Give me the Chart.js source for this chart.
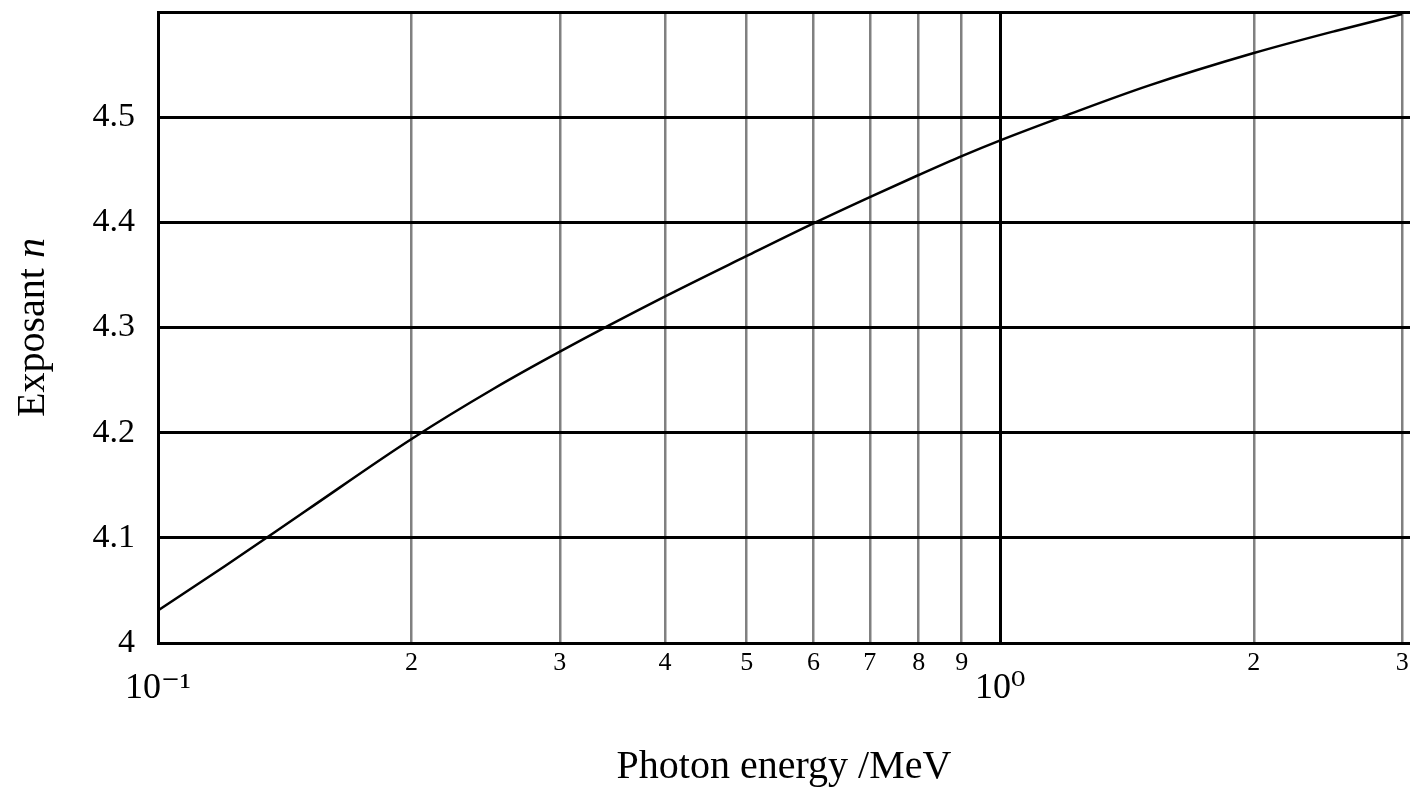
<!DOCTYPE html>
<html>
<head>
<meta charset="utf-8">
<script src="https://cdn.jsdelivr.net/npm/chart.js@4/dist/chart.umd.min.js"></script>
<style>
  html, body { margin: 0; padding: 0; background: #fff; }
  #wrap { width: 1410px; height: 789px; position: relative; }
</style>
</head>
<body>
<div id="wrap"><canvas id="c" width="1410" height="789"></canvas></div>
<script>
// ---- data ----
const energyMeV = [0.1, 0.12, 0.15, 0.2, 0.25, 0.3, 0.4, 0.5, 0.6, 0.7, 0.8, 0.9, 1.0, 1.2, 1.5, 2, 2.5, 3];
const exponentN = [4.031, 4.073, 4.126, 4.194, 4.2415, 4.277, 4.3295, 4.368, 4.399, 4.424, 4.445, 4.463, 4.478, 4.502, 4.530, 4.561, 4.582, 4.598];

const xTickValues = [0.1, 0.2, 0.3, 0.4, 0.5, 0.6, 0.7, 0.8, 0.9, 1, 2, 3];
const xTickLabels = ['10⁻¹', '2', '3', '4', '5', '6', '7', '8', '9', '10⁰', '2', '3'];
const xMajorTicks = [0.1, 1];
const yTickValues = [4.0, 4.1, 4.2, 4.3, 4.4, 4.5, 4.6];
const yTickLabels = ['4', '4.1', '4.2', '4.3', '4.4', '4.5', ''];

const xTitle = 'Photon energy /MeV';
const yTitleMain = 'Exposant ';
const yTitleVar = 'n';

const SERIF = '"Liberation Serif", "DejaVu Serif", serif';

function isMajor(v) { return xMajorTicks.some(m => Math.abs(m - v) < 1e-9); }
function idxOf(arr, v) { return arr.findIndex(a => Math.abs(a - v) < 1e-9); }

const yTitlePlugin = {
  id: 'yTitle',
  afterDraw(chart) {
    const ctx = chart.ctx;
    const area = chart.chartArea;
    ctx.save();
    const cy = (area.top + area.bottom) / 2;
    ctx.translate(44, cy);
    ctx.rotate(-Math.PI / 2);
    ctx.fillStyle = '#000';
    ctx.textBaseline = 'alphabetic';
    ctx.font = '40px ' + SERIF;
    const w1 = ctx.measureText(yTitleMain).width;
    ctx.font = 'italic 40px ' + SERIF;
    const w2 = ctx.measureText(yTitleVar).width;
    const start = -(w1 + w2) / 2;
    ctx.font = '40px ' + SERIF;
    ctx.textAlign = 'left';
    ctx.fillText(yTitleMain, start, 0);
    ctx.font = 'italic 40px ' + SERIF;
    ctx.fillText(yTitleVar, start + w1, 0);
    ctx.restore();
  }
};

new Chart(document.getElementById('c'), {
  type: 'line',
  data: {
    datasets: [{
      data: energyMeV.map((x, i) => ({ x: x, y: exponentN[i] })),
      borderColor: '#000',
      borderWidth: 2.5,
      pointRadius: 0,
      fill: false,
      cubicInterpolationMode: 'monotone'
    }]
  },
  options: {
    responsive: false,
    animation: false,
    layout: { padding: { top: 12, right: 0, left: 0, bottom: 0 } },
    plugins: { legend: { display: false }, tooltip: { enabled: false } },
    scales: {
      x: {
        type: 'logarithmic',
        min: 0.1,
        max: 3.065,
        afterBuildTicks(scale) {
          scale.ticks = xTickValues.map(v => ({ value: v, major: isMajor(v) }));
        },
        afterFit(scale) {
          scale.height = 146;
          scale.paddingLeft = 0;
          scale.paddingRight = 0;
        },
        grid: {
          drawTicks: false,
          color: ctx => (ctx.tick && isMajor(ctx.tick.value)) ? '#000' : '#808080',
          lineWidth: ctx => (ctx.tick && isMajor(ctx.tick.value)) ? 3 : 2.5
        },
        border: { display: true, color: '#000', width: 3 },
        ticks: {
          autoSkip: false,
          maxRotation: 0,
          minRotation: 0,
          padding: 5,
          color: '#000',
          font: ctx => (ctx.tick && isMajor(ctx.tick.value))
            ? { family: SERIF, size: 36, lineHeight: 0.75 }
            : { family: SERIF, size: 26, lineHeight: 1.2 },
          callback(value) {
            const i = idxOf(xTickValues, value);
            if (i < 0) return '';
            return isMajor(value) ? ['', xTickLabels[i]] : xTickLabels[i];
          }
        },
        title: {
          display: true,
          text: xTitle,
          color: '#000',
          font: { family: SERIF, size: 40, lineHeight: 1.1 },
          padding: { top: 0, bottom: 0 }
        }
      },
      y: {
        type: 'linear',
        min: 4.0,
        max: 4.6,
        afterBuildTicks(scale) {
          scale.ticks = yTickValues.map(v => ({ value: v }));
        },
        afterFit(scale) {
          scale.width = 158;
          scale.paddingTop = 0;
          scale.paddingBottom = 0;
        },
        grid: { drawTicks: false, color: '#000', lineWidth: 3 },
        border: { display: true, color: '#000', width: 3 },
        ticks: {
          padding: 23,
          color: '#000',
          font: { family: SERIF, size: 34 },
          callback(value) {
            const i = idxOf(yTickValues, value);
            return i < 0 ? '' : yTickLabels[i];
          }
        }
      }
    }
  },
  plugins: [yTitlePlugin]
});
</script>
</body>
</html>
